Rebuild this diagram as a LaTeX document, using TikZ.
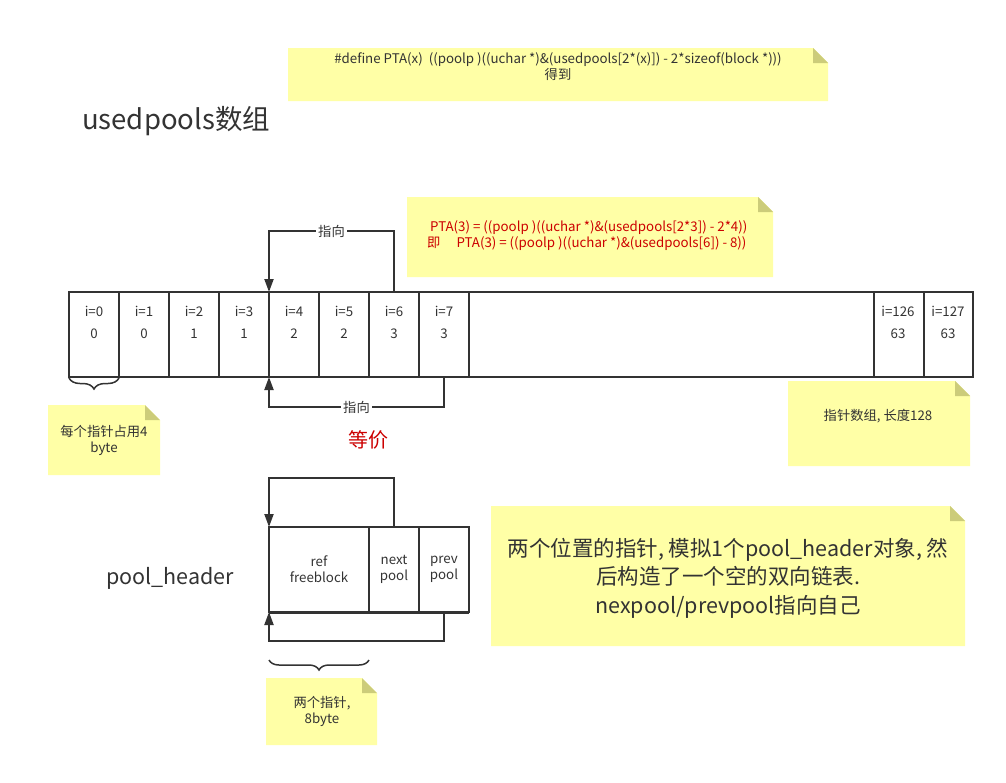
\documentclass[tikz,border=0pt]{standalone}
\usepackage{fontspec}
\setmainfont{Noto Sans CJK SC}
\usetikzlibrary{arrows.meta,decorations.pathreplacing,calc}
\definecolor{ink}{HTML}{333333}
\definecolor{notefill}{HTML}{FFFFA6}
\definecolor{notefold}{HTML}{CCCC7A}
\definecolor{redtext}{HTML}{CC0000}
\newcommand\drawnote[5]{%
  \fill[notefill] (#2,#3) -- (#4-15,#3) -- (#4,#3+15) -- (#4,#5) -- (#2,#5) -- cycle;
  \fill[notefold] (#4-15,#3) -- (#4-15,#3+15) -- (#4,#3+15) -- cycle;
  \coordinate (#1) at ({(#2+#4)/2},{(#3+#5)/2});}
\begin{document}
\begin{tikzpicture}[x=1pt,y=-1pt,
  every node/.style={inner sep=0pt, text=ink},
  f12/.style={font=\fontsize{13.3}{16}\selectfont},
  f20/.style={font=\fontsize{21.5}{28.5}\selectfont},
  cell/.style={draw=ink, line width=2pt, anchor=north west, minimum height=85pt, outer sep=0pt},
  arr/.style={draw=ink, line width=2pt, -{Triangle[length=13pt,width=9pt]}},
  lbl/.style={f12, fill=white, inner xsep=2pt, inner ysep=1pt},
  bracebar/.style={draw=ink, line width=1.5pt, decorate, decoration={brace, mirror, amplitude=#1}},
]
\useasboundingbox[fill=white] (0,0) rectangle (1006,782);

% notes
\drawnote{n1}{288}{48}{828}{101}
\drawnote{n2}{407}{197}{773}{277}
\drawnote{n3}{48}{405}{160}{475}
\drawnote{n4}{788}{381}{970}{466}
\drawnote{n5}{491}{506}{965}{646}
\drawnote{n6}{266}{678}{377}{745}

\node[f12, align=center] (t1) at (558,67) {\#define PTA(x)\ \ ((poolp )((uchar *)\&(usedpools[2*(x)]) - 2*sizeof(block *)))\\得到};
\node[f12, align=left, anchor=west, text=redtext] (t2) at (427,236) {\ PTA(3) = ((poolp )((uchar *)\&(usedpools[2*3]) - 2*4))\\即\hspace{16pt}PTA(3) = ((poolp )((uchar *)\&(usedpools[6]) - 8))};
\node[f12, align=center] (t3) at (104,440) {每个指针占用4\\byte};
\node[f12] (t4) at (878,416) {指针数组, 长度128};
\node[f20, align=center] (t5) at (728,578) {两个位置的指针, 模拟1个pool\_header对象, 然\\后构造了一个空的双向链表.\\nexpool/prevpool指向自己};
\node[f12, align=center] (t6) at (322,711) {两个指针,\\8byte};

% titles
\node[font=\fontsize{27.5}{32}\selectfont, anchor=west] (title) at (82,121) {usedpools数组};
\node[f20] (ph) at (170,578) {pool\_header};
\node[font=\fontsize{20}{24}\selectfont, text=redtext] (eq) at (368,440) {等价};

% array cells
\foreach \i/\v in {0/0,1/0,2/1,3/1,4/2,5/2,6/3,7/3} {
  \node[cell, minimum width=50pt] (c\i) at ({69+50*\i},292) {};
  \node[f12] (ci\i) at ({94+50*\i},311) {i=\i};
  \node[f12] (cv\i) at ({94+50*\i},334) {\v};
}
\node[cell, minimum width=405pt] (cmid) at (469,292) {};
\node[cell, minimum width=50pt] (c126) at (874,292) {};
\node[cell, minimum width=49pt] (c127) at (924,292) {};
\node[f12] (ci126) at (898,311) {i=126};
\node[f12] (cv126) at (898,334) {63};
\node[f12] (ci127) at (948,311) {i=127};
\node[f12] (cv127) at (948,334) {63};

% array arrows
\draw[arr] (c6.north) -- ++(0,-61) -| node[lbl, pos=0.25] {指向} (c4.north west);
\draw[arr] (c7.south) -- ++(0,30) -| node[lbl, pos=0.25] {指向} (c4.south west);

% brace under cell 0
\draw[bracebar=11pt] (69,378) -- (119,378);

% pool_header
\node[cell, minimum width=100pt, align=center, f12] (p0) at (269,527) {ref\\freeblock};
\node[cell, minimum width=50pt, align=center, f12] (p1) at (369,527) {next\\pool};
\node[cell, minimum width=50pt, align=center, f12] (p2) at (419,527) {prev\\pool};
\draw[ink, line width=3pt] (p0.south west) -- (p2.south east);
\draw[arr] (p1.north) -- ++(0,-49) -| (p0.north west);
\draw[arr] (p2.south) -- ++(0,29) -| (p0.south west);

\draw[bracebar=10pt] (269,660) -- (369,660);
\end{tikzpicture}
\end{document}
